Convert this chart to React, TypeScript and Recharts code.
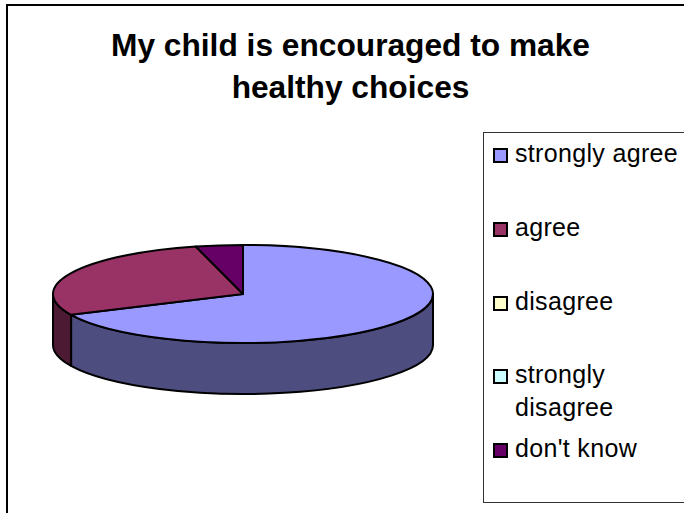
import React from 'react';
import { PieChart, Pie, Legend } from 'recharts';

const categories = ['strongly agree', 'agree', 'disagree', 'strongly disagree', "don't know"];
const responses = [17, 7, 0, 0, 1];
const topColors = ['#9999FF', '#993366', '#FFFFCC', '#CCFFFF', '#660066'];
const wallColors = ['#4D4D80', '#4D1A33', '#80806A', '#6A8080', '#330033'];
const titleLines = ['My child is encouraged to make', 'healthy choices'];

const data = categories.map((name, i) => ({
  name,
  value: responses[i],
  fill: topColors[i],
  wall: wallColors[i],
}));

const FONT = '"Liberation Sans", Arial, sans-serif';
const SQUASH = 49 / 190; // ellipse height / width of the tilted pie
const DEPTH = 51;
const LEGEND_ROW_TOPS = [4, 78, 152, 225, 299];

const Slice3D = (props: any) => {
  const { cx, cy, outerRadius, startAngle, endAngle, fill, payload } = props;
  if (startAngle === endAngle) return null;
  const rx = outerRadius;
  const ry = outerRadius * SQUASH;
  const pt = (deg: number) => {
    const a = (deg * Math.PI) / 180;
    return [cx + rx * Math.cos(a), cy - ry * Math.sin(a)];
  };
  const [sx, sy] = pt(startAngle);
  const [ex, ey] = pt(endAngle);
  const large = Math.abs(startAngle - endAngle) > 180 ? 1 : 0;

  // only the front half of the rim can be seen
  const wallStart = Math.min(startAngle, 0);
  const wallEnd = Math.max(endAngle, -180);
  let wall = null;
  if (wallStart > wallEnd) {
    const [ax, ay] = pt(wallStart);
    const [bx, by] = pt(wallEnd);
    wall = (
      <path
        d={`M${ax},${ay} A${rx},${ry} 0 0 1 ${bx},${by} L${bx},${by + DEPTH} A${rx},${ry} 0 0 0 ${ax},${ay + DEPTH} Z`}
        fill={payload.wall}
        stroke="#000"
        strokeWidth={2}
        strokeLinejoin="round"
      />
    );
  }

  return (
    <g>
      {wall}
      <path
        d={`M${cx},${cy} L${sx},${sy} A${rx},${ry} 0 ${large} 1 ${ex},${ey} Z`}
        fill={fill}
        stroke="#000"
        strokeWidth={2}
        strokeLinejoin="round"
      />
    </g>
  );
};

const LegendBox = ({ payload }: any) => (
  <div
    style={{
      position: 'relative',
      width: 201,
      height: 371,
      boxSizing: 'border-box',
      borderLeft: '1px solid #333',
      borderTop: '1px solid #333',
      borderBottom: '1px solid #333',
      background: '#fff',
      fontFamily: FONT,
      fontSize: 25,
      letterSpacing: 0.33,
      lineHeight: '33px',
      color: '#000',
    }}
  >
    {(payload || []).map((entry: any, i: number) => (
      <div key={entry.value} style={{ position: 'absolute', left: 31, top: LEGEND_ROW_TOPS[i], width: 168 }}>
        <span
          style={{
            position: 'absolute',
            left: -22,
            top: 11,
            width: 11,
            height: 11,
            border: '2px solid #000',
            background: entry.color,
          }}
        />
        {entry.value}
      </div>
    ))}
  </div>
);

export default function App() {
  return (
    <div style={{ position: 'absolute', left: 0, top: 0, width: 684, height: 513, background: '#fff' }}>
      {/* the frame runs off the right and bottom of the picture */}
      <div
        style={{
          position: 'absolute',
          left: 6,
          top: 4,
          width: 678,
          height: 509,
          boxSizing: 'border-box',
          borderLeft: '2px solid #000',
          borderTop: '2px solid #000',
        }}
      />
      <div style={{ position: 'absolute', left: 0, top: 0 }}>
        <PieChart width={684} height={513} margin={{ top: 0, right: 0, bottom: 0, left: 0 }}>
          {titleLines.map((line, i) => (
            <text
              key={line}
              x={350.5}
              y={56 + i * 42}
              textAnchor="middle"
              fontFamily={FONT}
              fontWeight="bold"
              fontSize={31.7}
              fill="#000"
            >
              {line}
            </text>
          ))}
          <Pie
            data={data}
            dataKey="value"
            nameKey="name"
            cx={243}
            cy={294}
            outerRadius={190}
            startAngle={90}
            endAngle={-270}
            label={false}
            labelLine={false}
            isAnimationActive={false}
            shape={Slice3D}
          />
          <Legend
            layout="vertical"
            align="right"
            verticalAlign="middle"
            itemSorter={null}
            content={LegendBox}
            wrapperStyle={{ position: 'absolute', left: 483, top: 132, width: 201, height: 371 }}
          />
        </PieChart>
      </div>
    </div>
  );
}
